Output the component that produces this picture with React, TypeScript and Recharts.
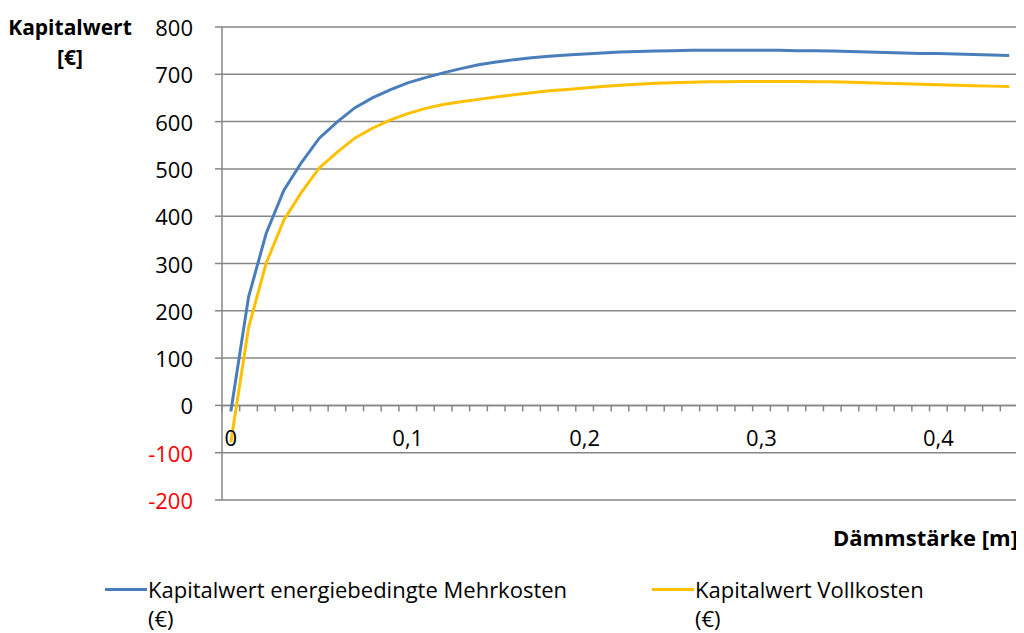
import React from 'react';
import { LineChart, Line, XAxis, YAxis, CartesianGrid, ReferenceLine, Legend } from 'recharts';

// Dämmstärke in m (Kategorien der x-Achse)
const daemmstaerke = [
  0, 0.01, 0.02, 0.03, 0.04, 0.05, 0.06, 0.07, 0.08, 0.09,
  0.1, 0.11, 0.12, 0.13, 0.14, 0.15, 0.16, 0.17, 0.18, 0.19,
  0.2, 0.21, 0.22, 0.23, 0.24, 0.25, 0.26, 0.27, 0.28, 0.29,
  0.3, 0.31, 0.32, 0.33, 0.34, 0.35, 0.36, 0.37, 0.38, 0.39,
  0.4, 0.41, 0.42, 0.43, 0.44,
];

// Kapitalwert energiebedingte Mehrkosten (€)
const kwMehrkosten = [
  -13, 229, 364, 455, 514, 565, 599, 629, 650, 667,
  682, 693, 703, 712, 720, 726, 731, 735, 738, 741,
  743, 745, 747, 748, 749, 750, 751, 751, 751, 751,
  751, 751, 750, 750, 749, 748, 747, 746, 745, 744,
  744, 743, 742, 741, 740,
];

// Kapitalwert Vollkosten (€)
const kwVollkosten = [
  -78, 164, 301, 392, 451, 502, 535, 565, 586, 603,
  617, 628, 636, 642, 647, 652, 657, 661, 665, 668,
  671, 674, 677, 679, 681, 682, 683, 684, 684, 685,
  685, 685, 685, 684, 684, 683, 682, 681, 680, 679,
  678, 677, 676, 675, 674,
];

const yTicks = [-200, -100, 0, 100, 200, 300, 400, 500, 600, 700, 800];
const xLabelStep = 10;

const series = [
  { key: 'mehrkosten', name: 'Kapitalwert energiebedingte Mehrkosten', unit: '(€)', color: '#4A7EBB' },
  { key: 'vollkosten', name: 'Kapitalwert Vollkosten', unit: '(€)', color: '#FFC000' },
];

const data = daemmstaerke.map((d, i) => ({
  d,
  mehrkosten: kwMehrkosten[i],
  vollkosten: kwVollkosten[i],
}));

const W = 1016;
const H = 625;
const PLOT_LEFT = 214;
const PLOT_TOP = 19;
const PLOT_W = 796;
const PLOT_H = 473;
const Y_AXIS_W = 60;
const X_AXIS_H = 30;
const Y_MIN = -200;
const Y_MAX = 800;
const ZERO_Y = PLOT_TOP + (PLOT_H * Y_MAX) / (Y_MAX - Y_MIN);
const BAND = PLOT_W / daemmstaerke.length;
const FONT = '"Open Sans", sans-serif';
const FS = 22;
const GRAY = '#868686';

// x-Achse sitzt bei 0, Striche zwischen den Kategorien
const XTick = (props: any) => {
  const { x, index, payload } = props;
  const isLast = index === daemmstaerke.length - 1;
  return (
    <g>
      <line x1={x - BAND / 2} x2={x - BAND / 2} y1={ZERO_Y} y2={ZERO_Y + 6} stroke={GRAY} strokeWidth={1.5} />
      {isLast && (
        <line x1={x + BAND / 2} x2={x + BAND / 2} y1={ZERO_Y} y2={ZERO_Y + 6} stroke={GRAY} strokeWidth={1.5} />
      )}
      {index % xLabelStep === 0 && (
        <text
          x={x}
          y={ZERO_Y + 32}
          textAnchor="middle"
          dominantBaseline="central"
          fontFamily={FONT}
          fontSize={FS}
          fill="#000"
        >
          {String(payload.value).replace('.', ',')}
        </text>
      )}
    </g>
  );
};

const YTick = (props: any) => {
  const { y, payload } = props;
  return (
    <text
      x={PLOT_LEFT - 29}
      y={y}
      textAnchor="end"
      dominantBaseline="central"
      fontFamily={FONT}
      fontSize={FS}
      fill={payload.value < 0 ? '#FF0000' : '#000'}
    >
      {payload.value}
    </text>
  );
};

const renderLegend = () => (
  <div style={{ display: 'flex', fontFamily: FONT, fontSize: FS, color: '#000' }}>
    {series.map((s, i) => (
      <div key={s.key} style={{ display: 'flex', width: i === 0 ? 547 : 'auto', flexShrink: 0 }}>
        <div style={{ width: 42, height: 3, marginTop: 13, background: s.color, marginRight: 1, flexShrink: 0 }} />
        <div style={{ lineHeight: '29px', textAlign: 'left', whiteSpace: 'nowrap' }}>
          {s.name}
          <br />
          {s.unit}
        </div>
      </div>
    ))}
  </div>
);

export default function App() {
  return (
    <div style={{ position: 'relative', width: W, height: H, fontFamily: FONT }}>
      <LineChart
        width={W}
        height={H}
        data={data}
        margin={{
          top: PLOT_TOP,
          right: W - PLOT_LEFT - PLOT_W,
          left: PLOT_LEFT - Y_AXIS_W,
          bottom: H - PLOT_TOP - PLOT_H - X_AXIS_H,
        }}
      >
        <CartesianGrid vertical={false} stroke={GRAY} strokeWidth={1.5} />
        <XAxis
          dataKey="d"
          interval={0}
          axisLine={false}
          tickLine={false}
          height={X_AXIS_H}
          padding={{ left: BAND / 2, right: BAND / 2 }}
          tick={XTick}
        />
        <YAxis
          domain={[Y_MIN, Y_MAX]}
          ticks={yTicks}
          width={Y_AXIS_W}
          axisLine={{ stroke: GRAY, strokeWidth: 1.5 }}
          tickLine={{ stroke: GRAY, strokeWidth: 1.5 }}
          tickSize={7}
          tick={YTick}
        />
        <ReferenceLine y={0} stroke={GRAY} strokeWidth={1.5} />
        {series.map((s) => (
          <Line
            key={s.key}
            type="linear"
            dataKey={s.key}
            name={s.name}
            stroke={s.color}
            strokeWidth={3}
            dot={false}
            isAnimationActive={false}
          />
        ))}
        <Legend
          layout="horizontal"
          verticalAlign="middle"
          align="center"
          content={renderLegend}
          wrapperStyle={{ position: 'absolute', left: 97, top: 567, bottom: 'auto', width: 900, height: 58 }}
        />
      </LineChart>
      <div
        style={{
          position: 'absolute',
          right: W - 1010,
          top: 514,
          fontWeight: 'bold',
          fontSize: FS,
          lineHeight: '30px',
          whiteSpace: 'nowrap',
        }}
      >
        Dämmstärke [m]
      </div>
      <div
        style={{
          position: 'absolute',
          left: 0,
          top: 4,
          width: 124,
          textAlign: 'center',
          fontWeight: 'bold',
          fontSize: 21,
          lineHeight: '30px',
        }}
      >
        Kapitalwert
        <br />
        [€]
      </div>
    </div>
  );
}
